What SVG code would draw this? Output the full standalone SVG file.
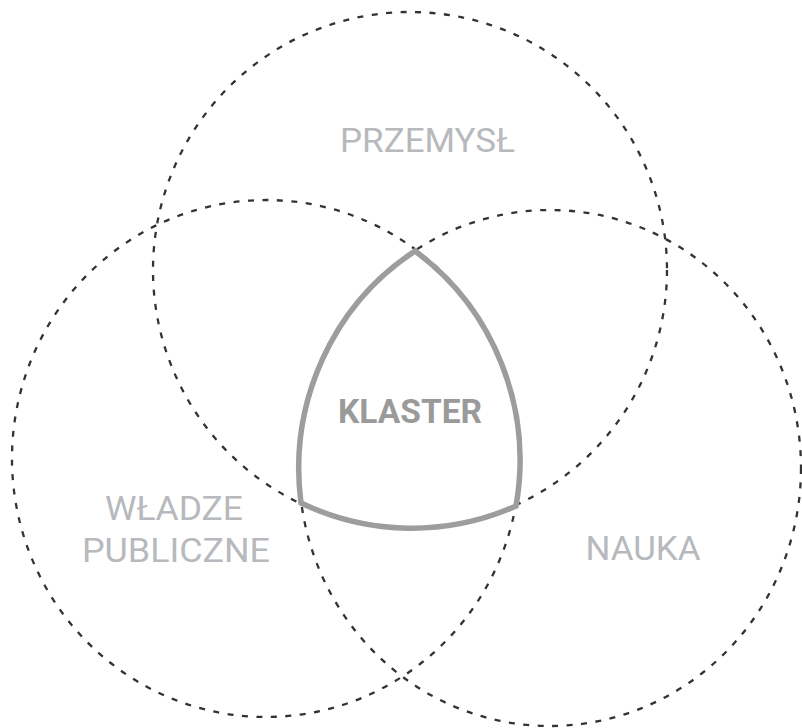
<svg xmlns="http://www.w3.org/2000/svg" width="802" height="728" viewBox="0 0 802 728">
<style>
.ring{fill:none;stroke:#333333;stroke-width:2.3;stroke-dasharray:6 8.5}
.lbl{font-family:Roboto,"Liberation Sans",sans-serif;font-size:34px;fill:#b7b9bc;text-anchor:middle}
.core{fill:none;stroke:#9d9d9d;stroke-width:5.5;stroke-linejoin:miter}
.corelbl{font-family:Roboto,"Liberation Sans",sans-serif;font-size:34px;font-weight:bold;fill:#9a9a9a;text-anchor:middle}
</style>
<rect width="802" height="728" fill="#ffffff"/>
<g id="connectors">
<ellipse class="ring" cx="410" cy="270" rx="257" ry="258"/>
<ellipse class="ring" cx="266" cy="458.5" rx="254" ry="258.5"/>
<ellipse class="ring" cx="550" cy="468" rx="251" ry="258"/>
</g>
<g id="przemysl">
<text class="lbl" x="427.5" y="152" textLength="175" lengthAdjust="spacingAndGlyphs">PRZEMYSŁ</text>
</g>
<g id="wladze">
<text class="lbl" x="174" y="520" textLength="138" lengthAdjust="spacingAndGlyphs">WŁADZE</text>
<text class="lbl" x="176" y="562" textLength="188" lengthAdjust="spacingAndGlyphs">PUBLICZNE</text>
</g>
<g id="nauka">
<text class="lbl" x="643" y="560" textLength="115" lengthAdjust="spacingAndGlyphs">NAUKA</text>
</g>
<g id="klaster">
<path class="core" d="M415,251 A251 258 0 0 0 301,503 A257 258 0 0 0 516,506 A254 258.5 0 0 0 415,251 Z"/>
<text class="corelbl" x="410" y="423" textLength="144" lengthAdjust="spacingAndGlyphs">KLASTER</text>
</g>
</svg>
